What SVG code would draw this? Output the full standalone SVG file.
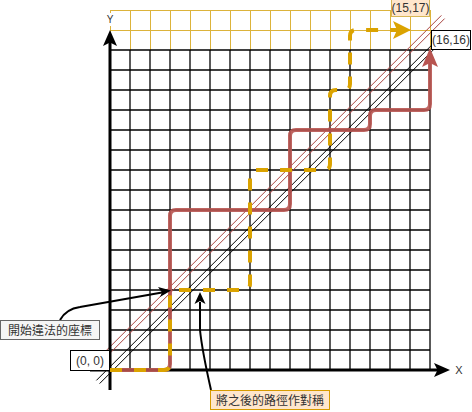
<svg xmlns="http://www.w3.org/2000/svg" width="472" height="412" viewBox="0 0 472 412">
<style>
.t{font-family:"Liberation Sans","Noto Sans CJK TC",sans-serif;font-size:12px;fill:#333;text-anchor:middle}
.cjk{font-family:"Liberation Sans","Noto Sans CJK TC","Noto Sans CJK SC",sans-serif;font-size:12px;fill:#333;text-anchor:middle}
.grid{fill:none;stroke:#000;stroke-width:1.3}
.ygrid{fill:none;stroke:#dcb33a;stroke-width:1}
.axis{fill:none;stroke:#000;stroke-width:3}
.thin{fill:none;stroke-width:1}
</style>
<rect width="472" height="412" fill="#fff"/>
<g id="yellow-grid">
<path class="ygrid" d="M110.5 10V50M130.5 10V50M150.5 10V50M170.5 10V50M190.5 10V50M210.5 10V50M230.5 10V50M250.5 10V50M270.5 10V50M290.5 10V50M310.5 10V50M330.5 10V50M350.5 10V50M370.5 10V50M390.5 10V50M410.5 10V50M430.5 10V50M110 10.5H431M110 30.5H431"/>
</g>
<g id="grid">
<path class="grid" d="M110 50V370M130 50V370M150 50V370M170 50V370M190 50V370M210 50V370M230 50V370M250 50V370M270 50V370M290 50V370M310 50V370M330 50V370M350 50V370M370 50V370M390 50V370M410 50V370M430 50V370M110 50H430M110 70H430M110 90H430M110 110H430M110 130H430M110 150H430M110 170H430M110 190H430M110 210H430M110 230H430M110 250H430M110 270H430M110 290H430M110 310H430M110 330H430M110 350H430"/>
</g>
<g id="diagonal-black">
<path class="thin" stroke="#000" d="M96.4 380.4L432.4 44.4M99.6 383.6L435.6 47.6"/>
</g>
<g id="diagonal-red">
<path class="thin" stroke="#a84440" d="M106.4 350.4L441.4 15.4M109.6 353.6L444.6 18.6"/>
</g>
<g id="axes">
<path class="axis" d="M110 390V42"/>
<path d="M110 30L117 46L110 42.5L103 46Z" fill="#000"/>
<path class="axis" d="M90 370H438"/>
<path d="M450 370L434 377L437.5 370L434 363Z" fill="#000"/>
<rect x="105" y="13" width="10" height="13" fill="#fff"/>
<text class="t" x="110" y="23" style="font-size:10px">Y</text>
<text class="t" x="459" y="374" style="font-size:11px">X</text>
</g>
<g id="connectors">
<g id="red-path">
<path d="M110 370H164Q170 370 170 364V216Q170 210 176 210H284Q290 210 290 204V136Q290 130 296 130H364Q370 130 370 124V116Q370 110 376 110H424Q430 110 430 104V62" fill="none" stroke="#b85450" stroke-width="4" stroke-opacity="0.9"/>
<path d="M430 48L438 67L430 63L422 67Z" fill="#b85450"/>
</g>
<g id="yellow-path">
<path d="M110 370H164Q170 370 170 364V296Q170 290 176 290H244Q250 290 250 284V176Q250 170 256 170H324Q330 170 330 164V96Q330 90 336 90H344Q350 90 350 84V36Q350 30 356 30H398" fill="none" stroke="#dba300" stroke-width="4" stroke-dasharray="12 12"/>
<path d="M411 30L393 39L397 30L393 21Z" fill="#dba300"/>
</g>
<path id="callout-1" d="M60 320Q66 309 80 307L162 292.5" fill="none" stroke="#000" stroke-width="2"/>
<path d="M171 290.5L160 297L162 292.5L158 287Z" fill="#000"/>
<path id="callout-2" d="M211 390Q202 350 200 330V302" fill="none" stroke="#000" stroke-width="2"/>
<path d="M200 292L205.5 304L200 301L194.5 304Z" fill="#000"/>
</g>
<g id="label-origin">
<rect x="70.5" y="350.5" width="39" height="20" fill="#fff" stroke="#000"/>
<text class="t" x="90" y="365">(0, 0)</text>
</g>
<g id="label-16-16">
<rect x="431.5" y="30.5" width="39" height="19" fill="#fff" stroke="#000"/>
<text class="t" x="451" y="44">(16,16)</text>
</g>
<g id="label-15-17">
<rect x="391.5" y="-3.5" width="38" height="20" fill="#ffe6cc" stroke="#d6b656"/>
<text class="t" x="410.5" y="12">(15,17)</text>
</g>
<g id="note-illegal">
<rect x="0.5" y="320.5" width="99" height="19" fill="#f5f5f5" stroke="#666"/>
<text class="cjk" x="50" y="335">開始違法的座標</text>
</g>
<g id="note-mirror">
<rect x="210.5" y="390.5" width="119" height="19" fill="#ffe6cc" stroke="#d79b00"/>
<text class="cjk" x="270" y="405">將之後的路徑作對稱</text>
</g>
</svg>
